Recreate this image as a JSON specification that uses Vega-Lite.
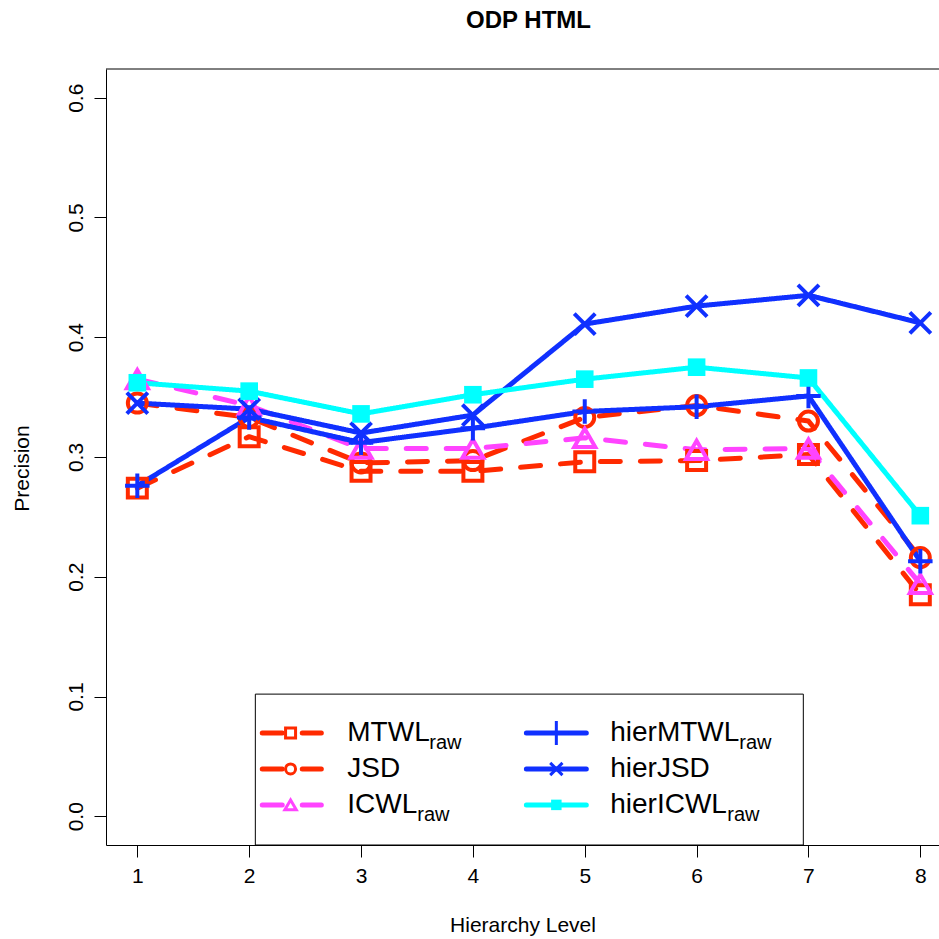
{
  "$schema": "https://vega.github.io/schema/vega-lite/v6.json",
  "autosize": {"type": "none"},
  "width": 833,
  "height": 776,
  "padding": {"left": 106, "top": 69, "right": 0, "bottom": 94},
  "background": "white",
  "config": {
    "view": {"stroke": null},
    "font": "Liberation Sans",
    "axis": {"grid": false, "domainColor": "black", "tickColor": "black", "labelColor": "black", "titleColor": "black", "tickSize": 12, "labelFont": "Liberation Sans", "titleFont": "Liberation Sans", "titleFontWeight": "normal"}
  },
  "title": {"text": "ODP HTML", "fontSize": 24, "fontWeight": "bold", "font": "Liberation Sans", "offset": 36, "anchor": "middle", "dx": 6, "color": "black"},
  "datasets": {
    "main": [
      {"series": "MTWL", "level": 1, "precision": 0.274},
      {"series": "MTWL", "level": 2, "precision": 0.317},
      {"series": "MTWL", "level": 3, "precision": 0.288},
      {"series": "MTWL", "level": 4, "precision": 0.288},
      {"series": "MTWL", "level": 5, "precision": 0.296},
      {"series": "MTWL", "level": 6, "precision": 0.297},
      {"series": "MTWL", "level": 7, "precision": 0.302},
      {"series": "MTWL", "level": 8, "precision": 0.185},
      {"series": "JSD", "level": 1, "precision": 0.345},
      {"series": "JSD", "level": 2, "precision": 0.333},
      {"series": "JSD", "level": 3, "precision": 0.295},
      {"series": "JSD", "level": 4, "precision": 0.297},
      {"series": "JSD", "level": 5, "precision": 0.333},
      {"series": "JSD", "level": 6, "precision": 0.343},
      {"series": "JSD", "level": 7, "precision": 0.330},
      {"series": "JSD", "level": 8, "precision": 0.216},
      {"series": "ICWL", "level": 1, "precision": 0.365},
      {"series": "ICWL", "level": 2, "precision": 0.343},
      {"series": "ICWL", "level": 3, "precision": 0.307},
      {"series": "ICWL", "level": 4, "precision": 0.307},
      {"series": "ICWL", "level": 5, "precision": 0.316},
      {"series": "ICWL", "level": 6, "precision": 0.306},
      {"series": "ICWL", "level": 7, "precision": 0.307},
      {"series": "ICWL", "level": 8, "precision": 0.194},
      {"series": "hierMTWL", "level": 1, "precision": 0.276},
      {"series": "hierMTWL", "level": 2, "precision": 0.333},
      {"series": "hierMTWL", "level": 3, "precision": 0.312},
      {"series": "hierMTWL", "level": 4, "precision": 0.324},
      {"series": "hierMTWL", "level": 5, "precision": 0.338},
      {"series": "hierMTWL", "level": 6, "precision": 0.342},
      {"series": "hierMTWL", "level": 7, "precision": 0.351},
      {"series": "hierMTWL", "level": 8, "precision": 0.213},
      {"series": "hierJSD", "level": 1, "precision": 0.345},
      {"series": "hierJSD", "level": 2, "precision": 0.340},
      {"series": "hierJSD", "level": 3, "precision": 0.320},
      {"series": "hierJSD", "level": 4, "precision": 0.335},
      {"series": "hierJSD", "level": 5, "precision": 0.411},
      {"series": "hierJSD", "level": 6, "precision": 0.426},
      {"series": "hierJSD", "level": 7, "precision": 0.435},
      {"series": "hierJSD", "level": 8, "precision": 0.412},
      {"series": "hierICWL", "level": 1, "precision": 0.362},
      {"series": "hierICWL", "level": 2, "precision": 0.355},
      {"series": "hierICWL", "level": 3, "precision": 0.336},
      {"series": "hierICWL", "level": 4, "precision": 0.352},
      {"series": "hierICWL", "level": 5, "precision": 0.365},
      {"series": "hierICWL", "level": 6, "precision": 0.375},
      {"series": "hierICWL", "level": 7, "precision": 0.366},
      {"series": "hierICWL", "level": 8, "precision": 0.251}
    ],
    "legend": [
      {"series": "MTWL", "label": "MTWL", "sub": "raw", "col": 1, "row": 1},
      {"series": "JSD", "label": "JSD", "sub": "", "col": 1, "row": 2},
      {"series": "ICWL", "label": "ICWL", "sub": "raw", "col": 1, "row": 3},
      {"series": "hierMTWL", "label": "hierMTWL", "sub": "raw", "col": 2, "row": 1},
      {"series": "hierJSD", "label": "hierJSD", "sub": "", "col": 2, "row": 2},
      {"series": "hierICWL", "label": "hierICWL", "sub": "raw", "col": 2, "row": 3}
    ]
  },
  "resolve": {"scale": {"size": "independent"}},
  "layer": [
    {
      "data": {"values": [{}]},
      "mark": {"type": "rule", "color": "black", "strokeWidth": 1},
      "encoding": {"y": {"datum": 0.624, "type": "quantitative"}}
    },
    {
      "data": {"name": "main"},
      "mark": {"type": "line", "strokeWidth": 5, "strokeCap": "round", "strokeJoin": "round"},
      "encoding": {
        "x": {"field": "level", "type": "quantitative", "scale": {"domain": [0.72, 8.167], "nice": false, "zero": false},
              "axis": {"values": [1, 2, 3, 4, 5, 6, 7, 8], "format": "d", "labelFontSize": 21, "labelPadding": 8, "title": "Hierarchy Level", "titleFontSize": 21, "titleY": 80, "titleBaseline": "middle"}},
        "y": {"field": "precision", "type": "quantitative", "scale": {"domain": [-0.024, 0.624], "nice": false, "zero": false},
              "axis": {"values": [0, 0.1, 0.2, 0.3, 0.4, 0.5, 0.6], "format": ".1f", "labelFontSize": 21, "labelAngle": -90, "labelAlign": "center", "labelBaseline": "bottom", "labelPadding": 8, "title": "Precision", "titleFontSize": 21, "titleX": -84, "titleY": 399, "titleBaseline": "middle", "titleAngle": -90}},
        "color": {"field": "series", "type": "nominal", "legend": null,
                  "scale": {"domain": ["MTWL", "JSD", "ICWL", "hierMTWL", "hierJSD", "hierICWL"], "range": ["#ff2a00", "#ff2a00", "#ff44ff", "#1030ff", "#1030ff", "#00ffff"]}},
        "strokeDash": {"field": "series", "type": "nominal", "legend": null,
                  "scale": {"domain": ["MTWL", "JSD", "ICWL", "hierMTWL", "hierJSD", "hierICWL"], "range": [[20, 20], [20, 20], [20, 20], [1, 0], [1, 0], [1, 0]]}},
        "order": {"field": "level", "type": "quantitative"}
      }
    },
    {
      "data": {"name": "main"},
      "transform": [{"filter": "datum.series != 'hierICWL'"}],
      "mark": {"type": "point", "filled": false, "strokeWidth": 4, "opacity": 1},
      "encoding": {
        "x": {"field": "level", "type": "quantitative"},
        "y": {"field": "precision", "type": "quantitative"},
        "color": {"field": "series", "type": "nominal", "legend": null},
        "shape": {"field": "series", "type": "nominal", "legend": null,
                  "scale": {"domain": ["MTWL", "JSD", "ICWL", "hierMTWL", "hierJSD", "hierICWL"], "range": ["square", "circle", "triangle-up", "M-1,0L1,0M0,-1L0,1", "M-1,-1L1,1M-1,1L1,-1", "square"]}},
        "size": {"field": "series", "type": "nominal", "legend": null,
                 "scale": {"type": "ordinal", "domain": ["MTWL", "JSD", "ICWL", "hierMTWL", "hierJSD", "hierICWL"], "range": [360, 360, 440, 600, 440, 289]}}
      }
    },
    {
      "data": {"name": "main"},
      "transform": [{"filter": "datum.series == 'hierICWL'"}],
      "mark": {"type": "point", "filled": true, "shape": "square", "size": 310, "opacity": 1, "color": "#00ffff"},
      "encoding": {
        "x": {"field": "level", "type": "quantitative"},
        "y": {"field": "precision", "type": "quantitative"}
      }
    },
    {
      "data": {"values": [{}]},
      "mark": {"type": "rect", "fill": "white", "stroke": "black", "strokeWidth": 1},
      "encoding": {
        "x": {"datum": 2.055, "type": "quantitative"},
        "x2": {"datum": 6.954},
        "y": {"datum": -0.024, "type": "quantitative"},
        "y2": {"datum": 0.102}
      }
    },
    {
      "data": {"name": "legend"},
      "transform": [
        {"calculate": "0.0695 - (datum.row - 1) * 0.030", "as": "ly"},
        {"calculate": "datum.col == 1 ? 2.117 : 4.478", "as": "lx1"},
        {"calculate": "datum.col == 1 ? 2.645 : 5.014", "as": "lx2"}
      ],
      "mark": {"type": "rule", "strokeWidth": 5, "strokeCap": "round"},
      "encoding": {
        "x": {"field": "lx1", "type": "quantitative"},
        "x2": {"field": "lx2"},
        "y": {"field": "ly", "type": "quantitative"},
        "color": {"field": "series", "type": "nominal", "legend": null},
        "strokeDash": {"field": "series", "type": "nominal", "legend": null}
      }
    },
    {
      "data": {"name": "legend"},
      "transform": [
        {"filter": "datum.series != 'hierICWL'"},
        {"calculate": "0.0695 - (datum.row - 1) * 0.030", "as": "ly"},
        {"calculate": "datum.col == 1 ? 2.37 : 4.746", "as": "px"}
      ],
      "mark": {"type": "point", "filled": false, "strokeWidth": 3, "opacity": 1},
      "encoding": {
        "x": {"field": "px", "type": "quantitative"},
        "y": {"field": "ly", "type": "quantitative"},
        "color": {"field": "series", "type": "nominal", "legend": null},
        "shape": {"field": "series", "type": "nominal", "legend": null},
        "size": {"field": "series", "type": "nominal", "legend": null,
                 "scale": {"type": "ordinal", "domain": ["MTWL", "JSD", "ICWL", "hierMTWL", "hierJSD", "hierICWL"], "range": [100, 100, 130, 576, 150, 100]}}
      }
    },
    {
      "data": {"name": "legend"},
      "transform": [
        {"filter": "datum.series == 'hierICWL'"},
        {"calculate": "0.0695 - (datum.row - 1) * 0.030", "as": "ly"},
        {"calculate": "datum.col == 1 ? 2.37 : 4.746", "as": "px"}
      ],
      "mark": {"type": "point", "filled": true, "shape": "square", "size": 110, "opacity": 1, "color": "#00ffff"},
      "encoding": {
        "x": {"field": "px", "type": "quantitative"},
        "y": {"field": "ly", "type": "quantitative"}
      }
    },
    {
      "data": {"name": "legend"},
      "transform": [
        {"calculate": "0.0695 - (datum.row - 1) * 0.030", "as": "ly"},
        {"calculate": "datum.col == 1 ? 2.877 : 5.228", "as": "tx"}
      ],
      "mark": {"type": "text", "align": "left", "baseline": "middle", "fontSize": 28, "font": "Liberation Sans", "color": "black"},
      "encoding": {
        "x": {"field": "tx", "type": "quantitative"},
        "y": {"field": "ly", "type": "quantitative"},
        "text": {"field": "label"}
      }
    },
    {
      "data": {"name": "legend"},
      "transform": [
        {"filter": "datum.sub != ''"},
        {"calculate": "0.0695 - (datum.row - 1) * 0.030", "as": "ly"},
        {"calculate": "datum.label == 'MTWL' ? 3.61 : datum.label == 'ICWL' ? 3.503 : datum.label == 'hierMTWL' ? 6.382 : 6.274", "as": "sx"}
      ],
      "mark": {"type": "text", "align": "left", "baseline": "middle", "fontSize": 20, "font": "Liberation Sans", "color": "black", "dy": 10},
      "encoding": {
        "x": {"field": "sx", "type": "quantitative"},
        "y": {"field": "ly", "type": "quantitative"},
        "text": {"field": "sub"}
      }
    }
  ]
}
